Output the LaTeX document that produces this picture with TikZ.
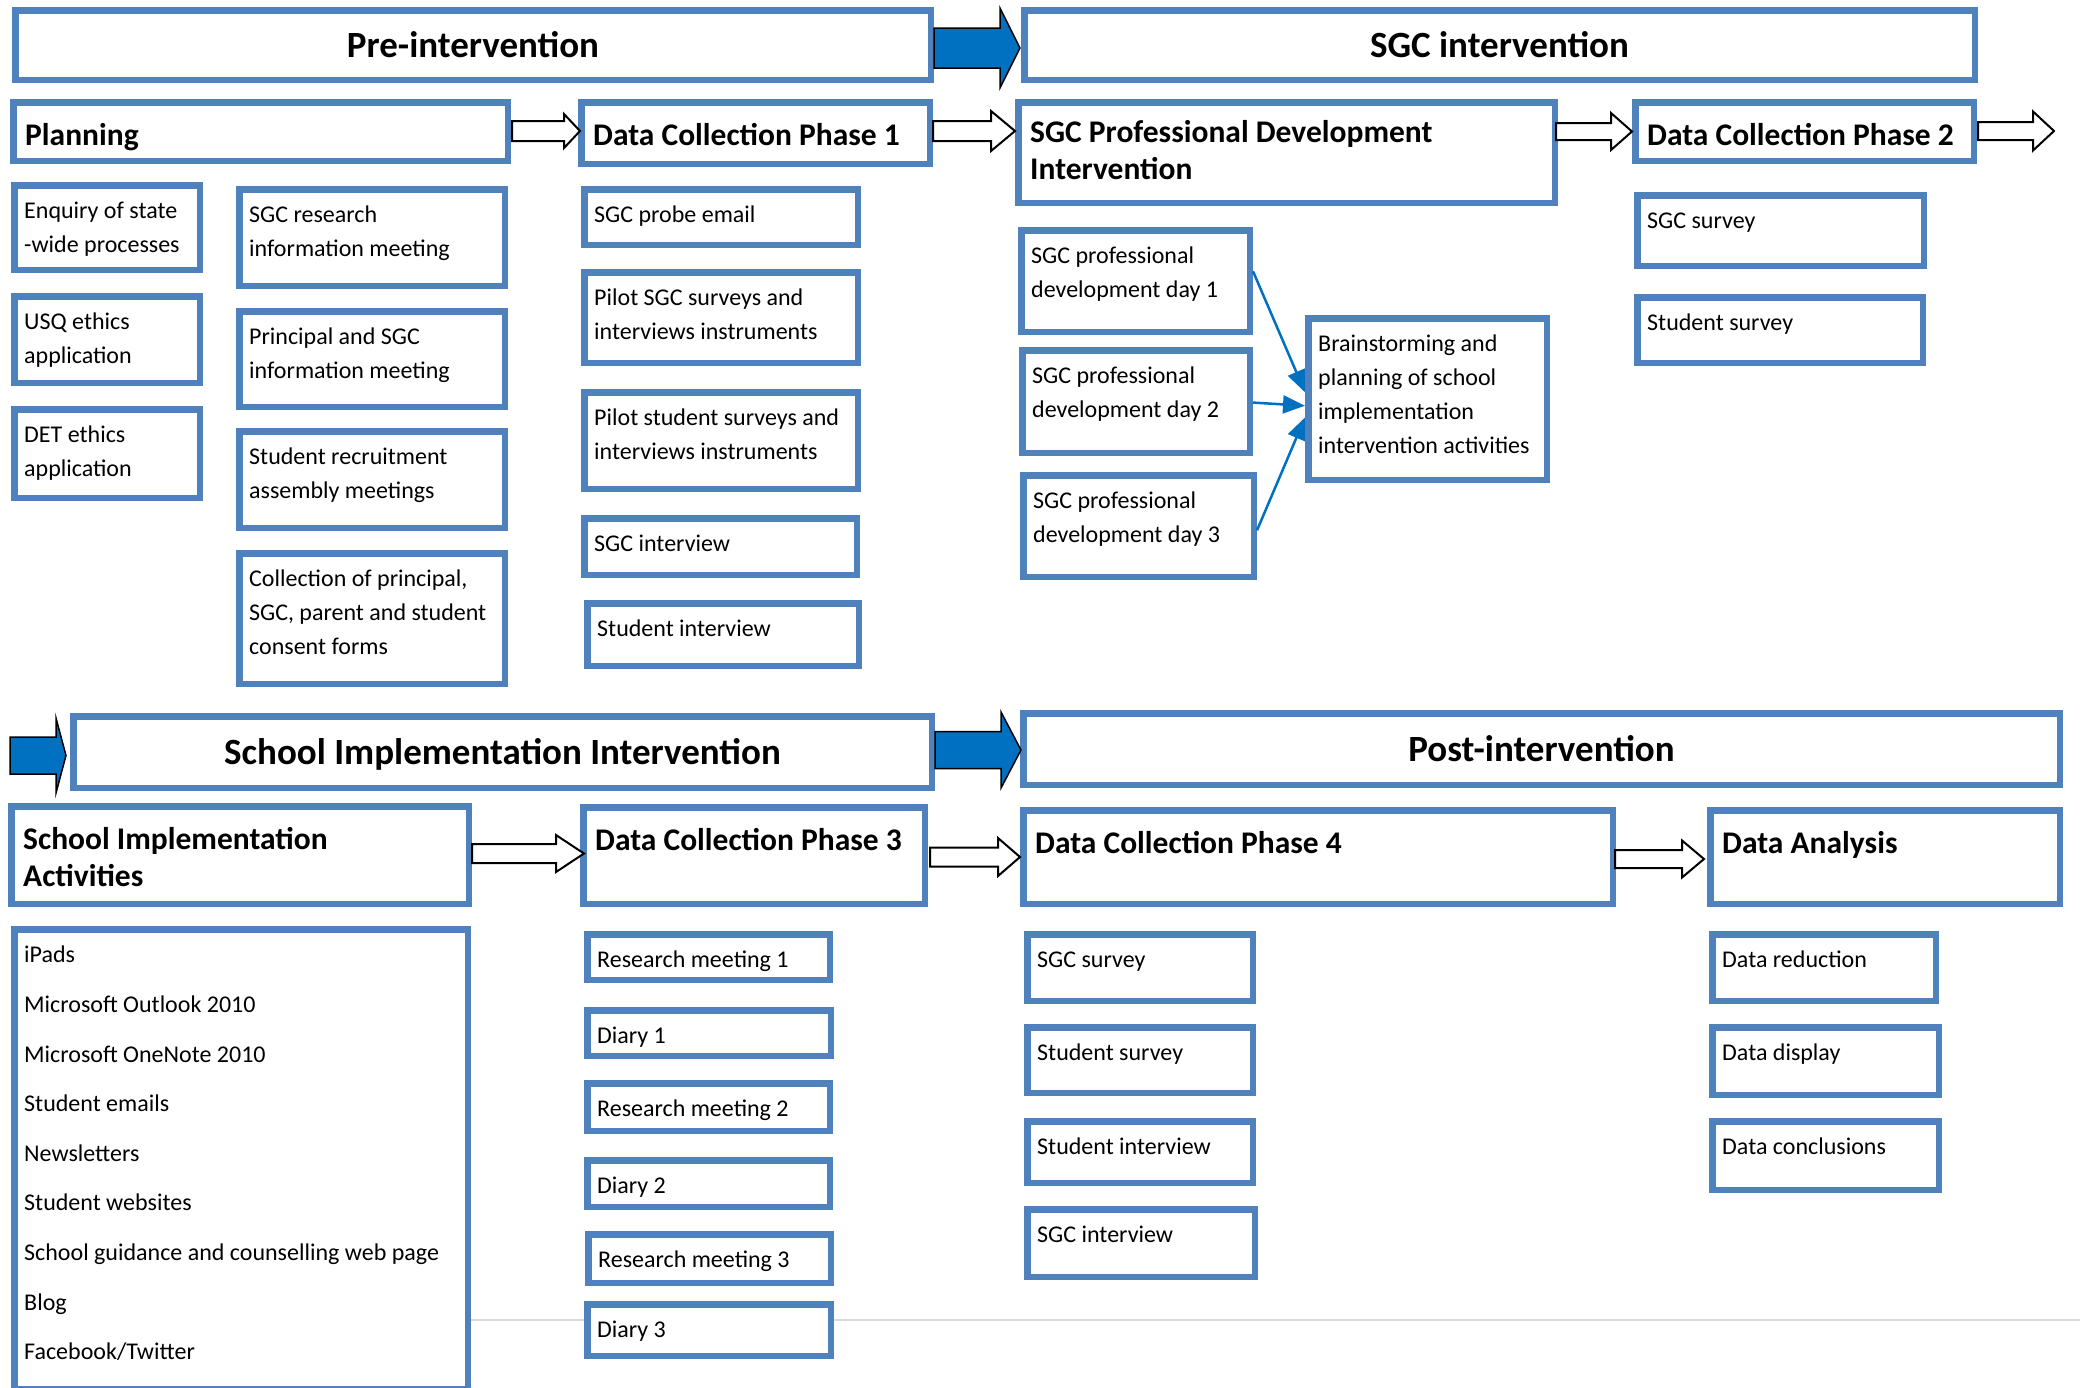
\documentclass[tikz,border=0pt]{standalone}
\usepackage{fontspec}
\setmainfont{Carlito}
\usetikzlibrary{arrows.meta,calc}

\definecolor{boxblue}{HTML}{4F81BD}
\definecolor{flowblue}{HTML}{0070C0}
\definecolor{rulegrey}{HTML}{D9D9D9}

\tikzset{
  box/.style={draw=boxblue, line width=6.5pt, fill=white, inner sep=0pt},
  headtxt/.style={font=\fontsize{37}{44}\selectfont\bfseries, text height=30pt, text depth=6pt},
  subtxt/.style={font=\fontsize{31.5}{37.5}\selectfont\bfseries, align=left, inner sep=0pt},
  bodytxt/.style={font=\fontsize{24}{34}\selectfont, align=left, inner sep=0pt},
  listtxt/.style={font=\fontsize{24}{49.6}\selectfont, align=left, inner sep=0pt},
  hollow/.style={draw=black, line width=2pt, fill=white, line join=miter},
  solidarrow/.style={draw=black, line width=1.5pt, fill=flowblue, line join=miter},
  pdlink/.style={draw=flowblue, line width=2.5pt, -{Triangle[length=22pt,width=18pt]}},
}

% a framed panel given by its outer corners (x1,y1) and (x2,y2);
% the anchors sit on the outer edge of the frame (outer sep = half line width)
\newcommand\panel[5]{%
  \node[box, anchor=north west,
        minimum width={(#4-#2-6.5)*1pt}, minimum height={(#5-#3-6.5)*1pt}]
        (#1) at (#2,#3) {};}
% phase header with centred bold title
\newcommand\headbox[6]{%
  \node[box, headtxt, anchor=north west,
        minimum width={(#4-#2-6.5)*1pt}, minimum height={(#5-#3-6.5)*1pt}]
        (#1) at (#2,#3) {#6};}
% stage panel with bold title at the top left
\newcommand\subbox[6]{%
  \panel{#1}{#2}{#3}{#4}{#5}%
  \node[subtxt, anchor=north west] (#1-txt) at (#2+15,#3+20) {\strut #6};}
% activity panel with plain text at the top left
\newcommand\bodybox[6]{%
  \panel{#1}{#2}{#3}{#4}{#5}%
  \node[bodytxt, anchor=north west] (#1-txt) at (#2+13,#3+12) {\strut #6};}
% block arrow: style, start x, head base x, tip x, centre y, half shaft, half head
\newcommand\blockarrow[7]{%
  \draw[#1] (#2,#5-#6) -- (#3,#5-#6) -- (#3,#5-#7) -- (#4,#5)
    -- (#3,#5+#7) -- (#3,#5+#6) -- (#2,#5+#6) -- cycle;}

\begin{document}
\begin{tikzpicture}[x=1pt, y=-1pt]
\useasboundingbox (0,0) rectangle (2080,1387);
\fill[white] (0,0) rectangle (2080,1387);

% thin rule running behind the lower panels
\coordinate (ruleL) at (471,1320);
\coordinate (ruleR) at (2080,1320);
\draw[rulegrey, line width=2.5pt] (ruleL) -- (ruleR);

% ---------------- upper half ----------------
\headbox{pre}{12}{7}{934}{83}{Pre-intervention}
\headbox{sgc}{1021}{7}{1978}{83}{SGC intervention}

\subbox{plan}{10}{99}{511}{164}{Planning}
\subbox{dc1}{578}{99}{933}{167}{Data Collection Phase 1}
\panel{pd}{1015}{99}{1558}{206}
\node[subtxt, anchor=north west] (pd-txt) at (1030,116) {\strut SGC Professional Development\\Intervention};
\subbox{dc2}{1632}{99}{1977}{164}{Data Collection Phase 2}

% planning
\bodybox{enq}{11}{182}{203}{273}{Enquiry of state\\-wide processes}
\bodybox{usq}{11}{293}{203}{386}{USQ ethics\\application}
\bodybox{det}{11}{406}{203}{501}{DET ethics\\application}
\bodybox{srim}{236}{186}{508}{289}{SGC research\\information meeting}
\bodybox{psim}{236}{308}{508}{410}{Principal and SGC\\information meeting}
\bodybox{sram}{236}{428}{508}{531}{Student recruitment\\assembly meetings}
\bodybox{cons}{236}{550}{508}{687}{Collection of principal,\\SGC, parent and student\\consent forms}

% data collection phase 1
\bodybox{probe}{581}{186}{861}{248}{SGC probe email}
\bodybox{pilot1}{581}{269}{861}{366}{Pilot SGC surveys and\\interviews instruments}
\bodybox{pilot2}{581}{389}{861}{492}{Pilot student surveys and\\interviews instruments}
\bodybox{sgcint1}{581}{515}{860}{578}{SGC interview}
\bodybox{stuint1}{584}{600}{862}{669}{Student interview}

% professional development
\bodybox{d1}{1018}{227}{1253}{335}{SGC professional\\development day 1}
\bodybox{d2}{1019}{347}{1253}{456}{SGC professional\\development day 2}
\bodybox{d3}{1020}{472}{1257}{580}{SGC professional\\development day 3}
\bodybox{brain}{1305}{315}{1550}{483}{Brainstorming and\\planning of school\\implementation\\intervention activities}

\draw[pdlink] ($(d1.north east)!0.41!(d1.south east)$) -- ($(brain.north west)!0.46!(brain.south west)$);
\draw[pdlink] ($(d2.north east)!0.51!(d2.south east)$) -- ($(brain.north west)!0.54!(brain.south west)$);
\draw[pdlink] ($(d3.north east)!0.54!(d3.south east)$) -- ($(brain.north west)!0.61!(brain.south west)$);

% data collection phase 2
\bodybox{svy2}{1634}{192}{1927}{269}{SGC survey}
\bodybox{ssvy2}{1634}{294}{1926}{366}{Student survey}

% ---------------- lower half ----------------
\headbox{sii}{70}{713}{935}{791}{School Implementation Intervention}
\headbox{post}{1020}{710}{2063}{788}{Post-intervention}

\subbox{sia}{8}{803}{472}{907}{School Implementation\\Activities}
\subbox{dc3}{580}{804}{928}{907}{Data Collection Phase 3}
\subbox{dc4}{1020}{807}{1616}{907}{Data Collection Phase 4}
\subbox{da}{1707}{807}{2063}{907}{Data Analysis}

% school implementation activities
\panel{acts}{11}{926}{471}{1392}
\node[listtxt, anchor=north west] (acts-txt) at (24,928) {\strut iPads\\Microsoft Outlook 2010\\Microsoft OneNote 2010\\Student emails\\Newsletters\\Student websites\\School guidance and counselling web page\\Blog\\Facebook/Twitter};

% data collection phase 3
\bodybox{rm1}{584}{931}{833}{983}{Research meeting 1}
\bodybox{dy1}{584}{1007}{834}{1059}{Diary 1}
\bodybox{rm2}{584}{1080}{833}{1134}{Research meeting 2}
\bodybox{dy2}{584}{1157}{833}{1210}{Diary 2}
\bodybox{rm3}{585}{1231}{834}{1286}{Research meeting 3}
\bodybox{dy3}{584}{1301}{834}{1359}{Diary 3}

% data collection phase 4
\bodybox{svy4}{1024}{931}{1256}{1004}{SGC survey}
\bodybox{ssvy4}{1024}{1024}{1256}{1096}{Student survey}
\bodybox{stuint4}{1024}{1118}{1256}{1186}{Student interview}
\bodybox{sgcint4}{1024}{1206}{1258}{1280}{SGC interview}

% data analysis
\bodybox{red}{1709}{931}{1939}{1004}{Data reduction}
\bodybox{disp}{1709}{1024}{1942}{1098}{Data display}
\bodybox{concl}{1709}{1118}{1942}{1193}{Data conclusions}

% ---------------- arrows between stages ----------------
\blockarrow{solidarrow}{934}{1000}{1020}{48}{20}{40}
\blockarrow{solidarrow}{935}{1001}{1021}{750}{18.5}{38}
\blockarrow{solidarrow}{10}{56}{66}{755.5}{18.5}{37.5}

\blockarrow{hollow}{512}{564}{580}{131}{10}{17}
\blockarrow{hollow}{933}{991}{1015}{131}{10}{20}
\blockarrow{hollow}{1556}{1611}{1632}{131.5}{8.5}{18.5}
\blockarrow{hollow}{1978}{2033}{2054}{131}{9}{19.5}
\blockarrow{hollow}{472}{556}{584}{853.5}{9.5}{18.5}
\blockarrow{hollow}{930}{998}{1020}{857}{9.5}{19}
\blockarrow{hollow}{1615}{1682}{1704}{859}{9}{18.5}
\end{tikzpicture}
\end{document}
